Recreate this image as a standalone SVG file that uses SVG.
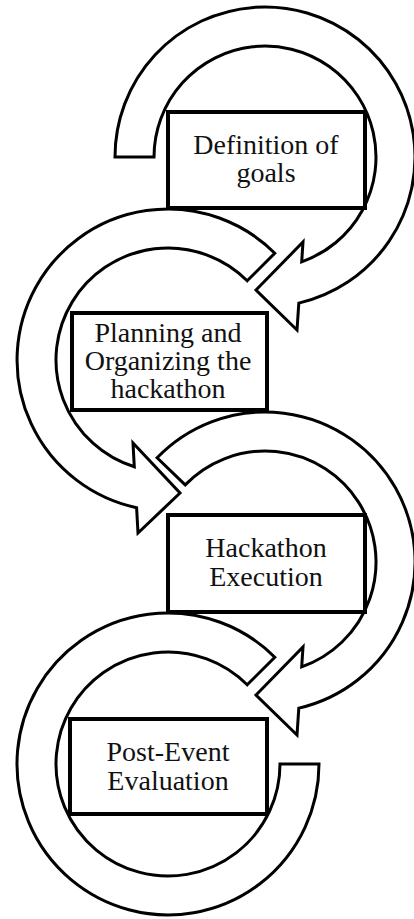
<svg xmlns="http://www.w3.org/2000/svg" width="414" height="919" viewBox="0 0 414 919">
<style>
.arrow{fill:#fff;stroke:#000;stroke-width:3;stroke-linejoin:miter}
.box{fill:#fff;stroke:#000;stroke-width:4}
.lbl{font-family:"Liberation Serif","Times New Roman",serif;font-size:28px;fill:#111;text-anchor:middle}
</style>
<rect width="414" height="919" fill="#fff"/>
<g id="connectors">
<path id="arrow1" class="arrow" d="M154,157 L115,157 A150 150 0 1 1 298.8,303.1 L297,330 L256,290 L303,242 L301.7,261.8 A111 111 0 1 0 154,157 Z"/>
<path id="arrow2" class="arrow" d="M247.2,280.8 L274.8,253.2 A151 151 0 1 0 136.6,507.7 L138,533 L180,493 L133,443 L134.3,466.8 A112 112 0 1 1 247.2,280.8 Z"/>
<path id="arrow3" class="arrow" d="M185.2,484.9 L157.1,457.8 A150 150 0 1 1 298.8,708.1 L297,735 L256,695 L303,647 L301.7,666.8 A111 111 0 1 0 185.2,484.9 Z"/>
<path id="arrow4" class="arrow" d="M247.2,684.8 L274.8,657.2 A151 151 0 1 0 319,764 L280,764 A112 112 0 1 1 247.2,684.8 Z"/>
</g>
<g id="node1">
<rect class="box" x="168" y="112" width="197" height="96"/>
<text class="lbl" x="266" y="154">Definition of</text>
<text class="lbl" x="266" y="182">goals</text>
</g>
<g id="node2">
<rect class="box" x="72" y="313" width="195" height="97"/>
<text class="lbl" x="168" y="342">Planning and</text>
<text class="lbl" x="168" y="370">Organizing the</text>
<text class="lbl" x="168" y="398">hackathon</text>
</g>
<g id="node3">
<rect class="box" x="168" y="515" width="197" height="97"/>
<text class="lbl" x="266" y="557">Hackathon</text>
<text class="lbl" x="266" y="586">Execution</text>
</g>
<g id="node4">
<rect class="box" x="70" y="719" width="197" height="95"/>
<text class="lbl" x="168" y="761">Post-Event</text>
<text class="lbl" x="168" y="790">Evaluation</text>
</g>
</svg>
